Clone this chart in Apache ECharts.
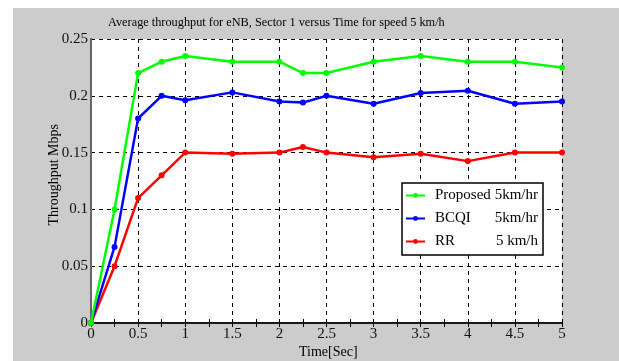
<!DOCTYPE html>
<html>
<head>
<meta charset="utf-8">
<script src="https://cdn.jsdelivr.net/npm/echarts@6/dist/echarts.min.js"></script>
<style>
  body { margin: 0; background: #fff; }
  #chart { position: absolute; left: 13px; top: 8px; width: 606px; height: 353px; }
</style>
</head>
<body>
<div id="chart"></div>
<script>
// time axis (sec)
const timeList = [0, 0.25, 0.5, 0.75, 1, 1.5, 2, 2.25, 2.5, 3, 3.5, 4, 4.5, 5];
const proposed = [0, 0.1, 0.22, 0.23, 0.235, 0.23, 0.23, 0.22, 0.22, 0.23, 0.235, 0.23, 0.23, 0.225];
const bcqi = [0, 0.067, 0.18, 0.2, 0.196, 0.203, 0.195, 0.194, 0.2, 0.193, 0.2025, 0.2045, 0.193, 0.195];
const rr = [0, 0.05, 0.11, 0.13, 0.15, 0.149, 0.15, 0.155, 0.15, 0.146, 0.149, 0.1425, 0.15, 0.15];
const names = ["Proposed 5km/hr", "BCQI 5km/hr", "RR 5 km/h"];
const legendParts = [["Proposed", "5km/hr"], ["BCQI", "5km/hr"], ["RR", "5 km/h"]];
const colors = ["#00ff00", "#0000ff", "#ff0000"];
const yTicks = ["0", "0.05", "0.1", "0.15", "0.2", "0.25"];

const font = "Liberation Serif";
const chart = echarts.init(document.getElementById("chart"));

const series = [proposed, bcqi, rr].map((vals, i) => ({
  name: names[i],
  type: "line",
  data: timeList.map((t, k) => [t, vals[k]]),
  symbol: "circle",
  symbolSize: 6,
  lineStyle: { width: 2.5, color: colors[i] },
  itemStyle: { color: colors[i] },
  z: 3 - i,
}));

const options = {
  backgroundColor: "#cccccc",
  animation: false,
  title: {
    text: "Average throughput for eNB, Sector 1 versus Time for speed 5 km/h",
    left: 90,
    top: 4,
    textStyle: { fontFamily: font, fontSize: 12.3, fontWeight: "normal", color: "#000" },
  },
  grid: {
    left: 78, top: 31, right: 57, bottom: 38,
    show: true, backgroundColor: "#fff", borderWidth: 0,
  },
  legend: {
    orient: "vertical",
    left: 389, top: 175,
    backgroundColor: "#fff",
    borderColor: "#000",
    borderWidth: 1.5,
    borderRadius: 0,
    padding: [5, 5, 6, 3],
    itemGap: 8,
    itemWidth: 19,
    itemHeight: 6,
    data: names,
    formatter: (name) => {
      const p = legendParts[names.indexOf(name)];
      return "{a|" + p[0] + "}{b|" + p[1] + "}";
    },
    textStyle: {
      fontFamily: font, fontSize: 15, color: "#000",
      rich: {
        a: { fontFamily: font, fontSize: 15, width: 61, padding: [0, 0, 0, 5] },
        b: { fontFamily: font, fontSize: 15, width: 42, align: "right" },
      },
    },
  },
  graphic: [
    {
      type: "text", left: 34, top: 116, rotation: Math.PI / 2,
      style: { text: "Throughput Mbps", font: "14px " + font, fill: "#000" },
    },
    {
      type: "text", left: 286, top: 337,
      style: { text: "Time[Sec]", font: "14px " + font, fill: "#000" },
    },
  ],
  xAxis: [
    {
      type: "value", min: 0, max: 5, interval: 0.5,
      axisLine: { lineStyle: { color: "#666", width: 2 } },
      axisTick: { inside: true, length: 4, lineStyle: { color: "#000" } },
      minorTick: { show: true, splitNumber: 2, length: 4, lineStyle: { color: "#000" } },
      axisLabel: { fontFamily: font, fontSize: 15, color: "#111", margin: 4 },
      splitLine: { show: true, lineStyle: { color: "#000", type: [4, 4], width: 1 } },
    },
    {
      type: "value", min: 0, max: 5, interval: 0.5, position: "top",
      axisLine: { lineStyle: { color: "#000", width: 1.5 } },
      axisTick: { inside: true, length: 4, lineStyle: { color: "#000" } },
      minorTick: { show: true, splitNumber: 2, length: 4, lineStyle: { color: "#000" } },
      axisLabel: { show: false },
      splitLine: { show: false },
    },
  ],
  yAxis: [
    {
      type: "value", min: 0, max: 0.25, interval: 0.05,
      axisLine: { show: true, lineStyle: { color: "#000", width: 1.5 } },
      axisTick: { show: false },
      axisLabel: {
        fontFamily: font, fontSize: 15, color: "#111", margin: 3,
        formatter: (v) => yTicks[Math.round(v / 0.05)],
      },
      splitLine: { show: true, lineStyle: { color: "#000", type: [4, 4], width: 1 } },
    },
    {
      type: "value", min: 0, max: 0.25, interval: 0.05, position: "right",
      axisLine: { show: true, lineStyle: { color: "#666", width: 2 } },
      axisTick: { show: false },
      axisLabel: { show: false },
      splitLine: { show: false },
    },
  ],
  series: series,
};
chart.setOption(options);
</script>
</body>
</html>
